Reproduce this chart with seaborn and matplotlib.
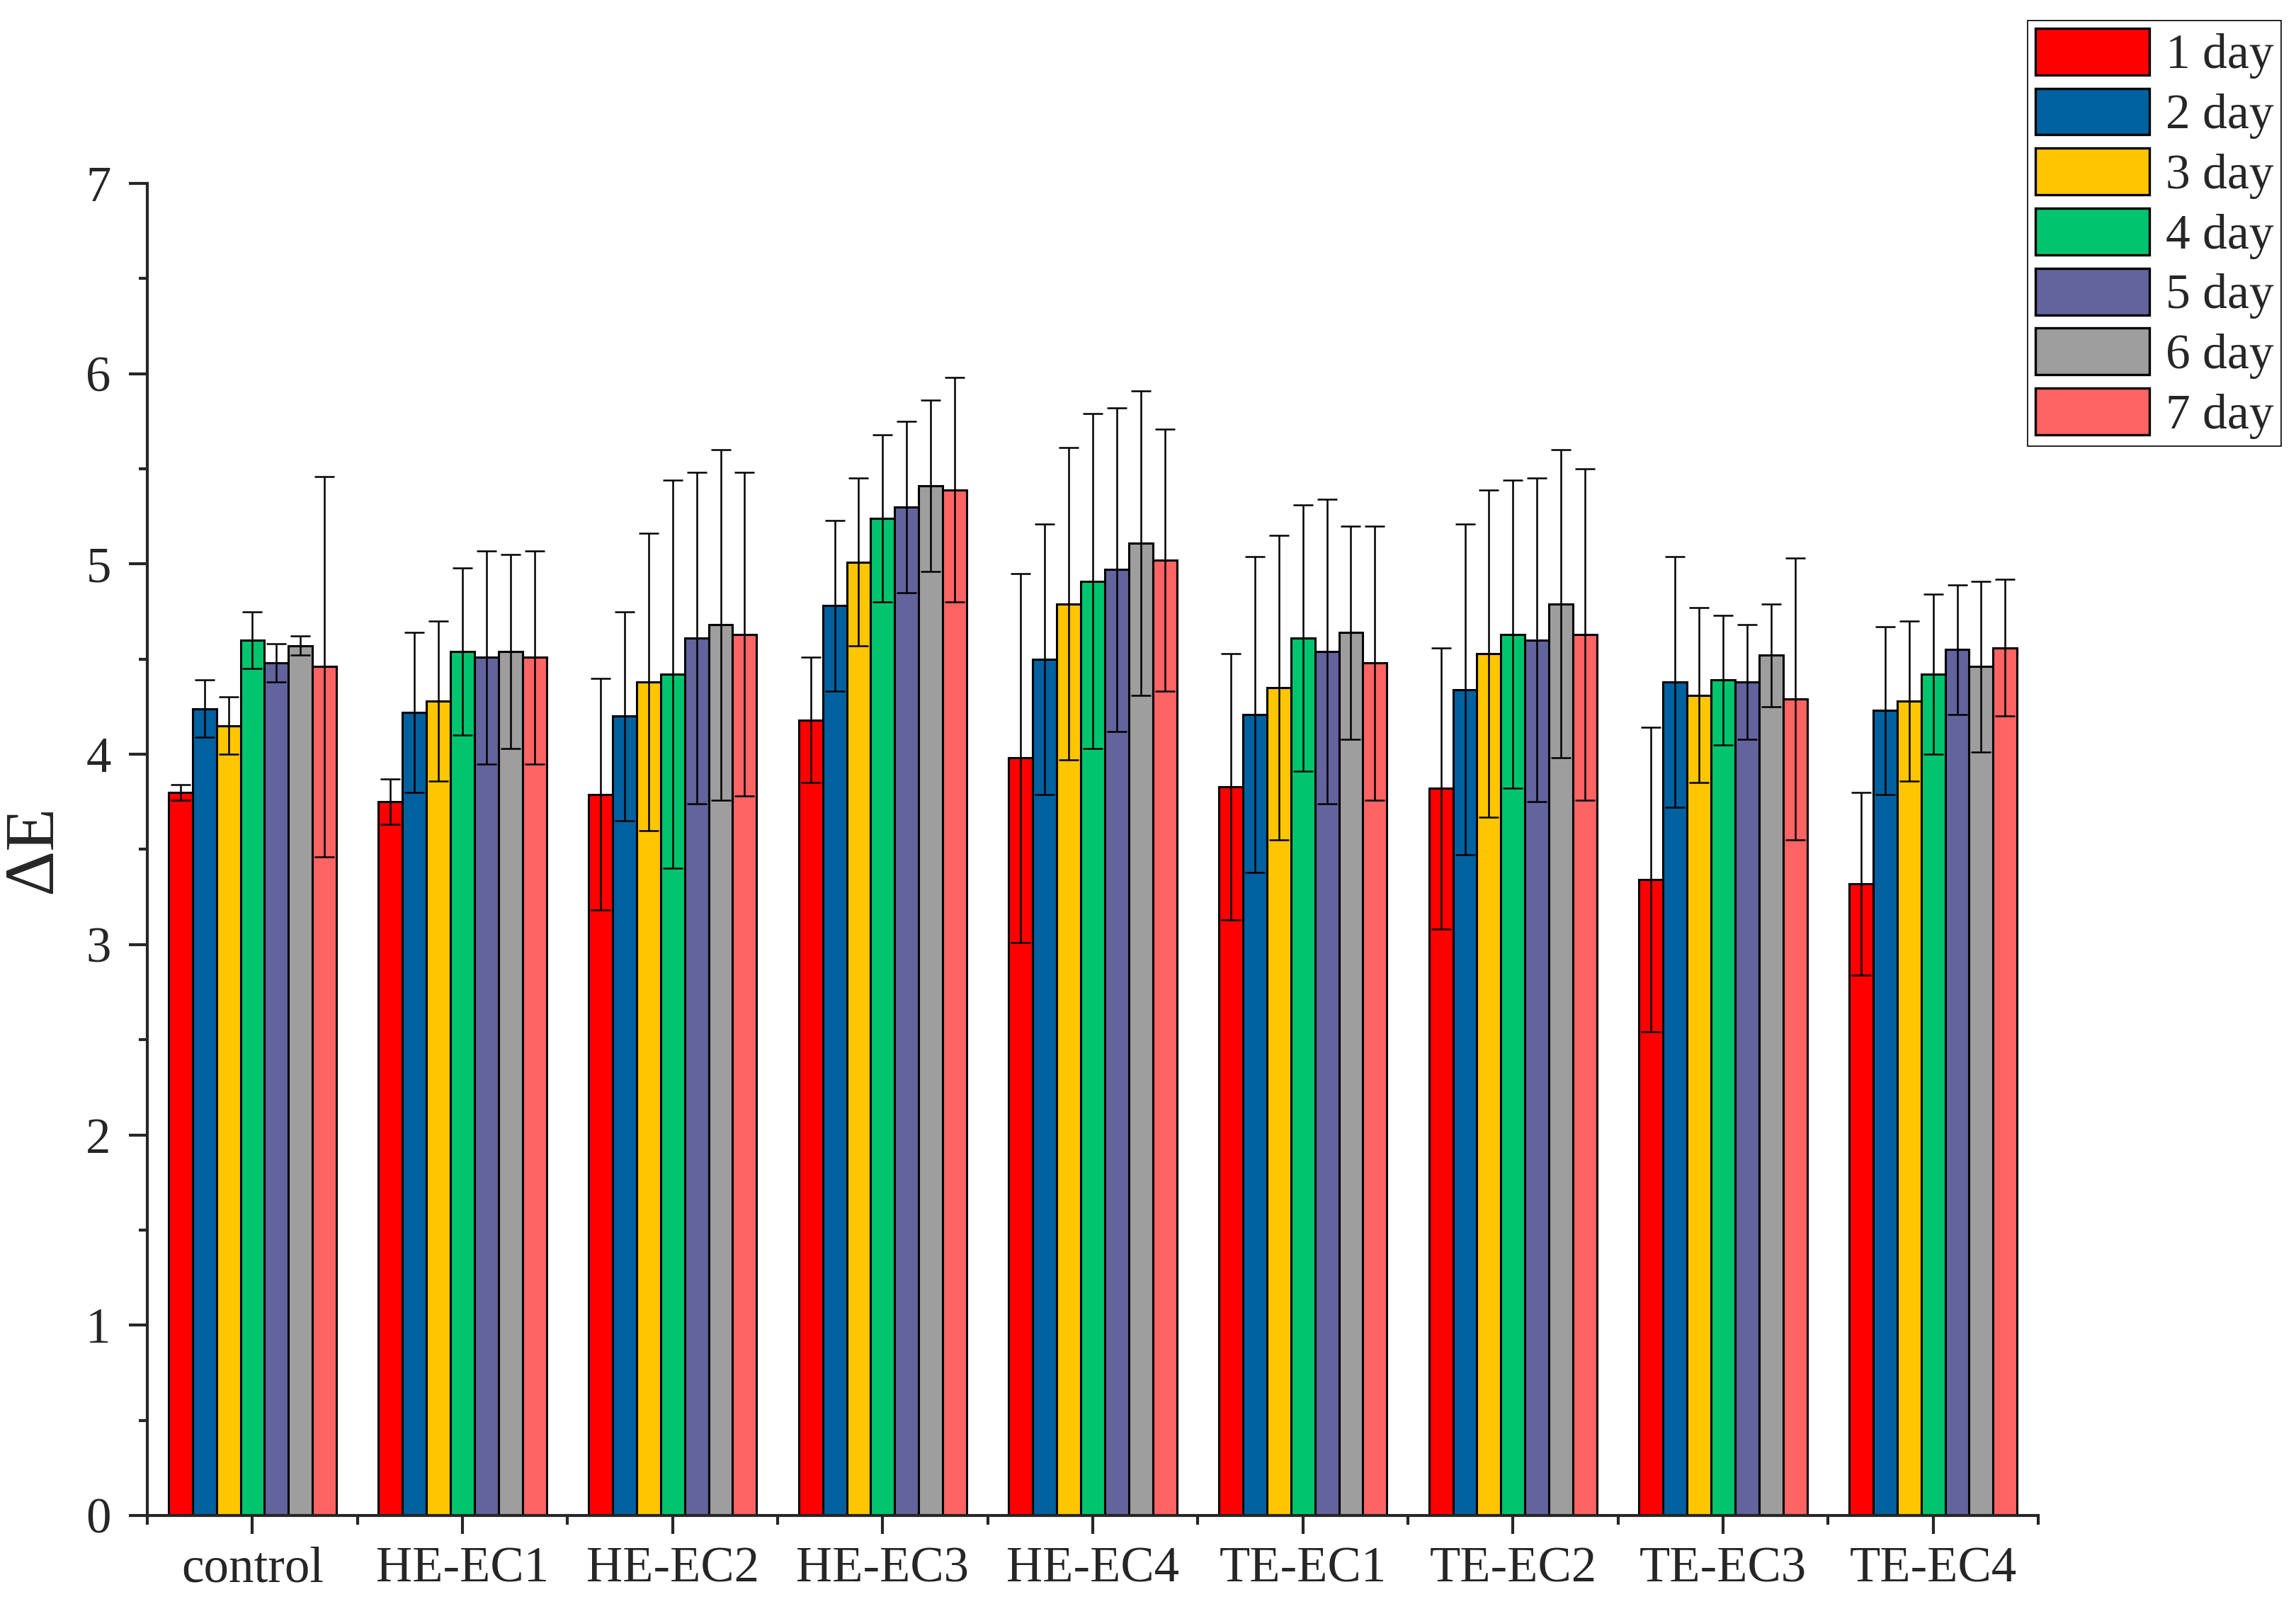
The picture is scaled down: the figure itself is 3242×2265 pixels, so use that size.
import matplotlib
matplotlib.use("Agg")
import matplotlib.pyplot as plt
from matplotlib.ticker import MultipleLocator, FixedLocator
import seaborn as sns
import pandas as pd

groups = ["control", "HE-EC1", "HE-EC2", "HE-EC3", "HE-EC4",
          "TE-EC1", "TE-EC2", "TE-EC3", "TE-EC4"]
days = ["1 day", "2 day", "3 day", "4 day", "5 day", "6 day", "7 day"]

# mean values, one list per day (across the groups)
day1 = [3.80, 3.75, 3.79, 4.18, 3.98, 3.83, 3.82, 3.34, 3.32]
day2 = [4.24, 4.22, 4.20, 4.78, 4.50, 4.21, 4.34, 4.38, 4.23]
day3 = [4.15, 4.28, 4.38, 5.01, 4.79, 4.35, 4.53, 4.31, 4.28]
day4 = [4.60, 4.54, 4.42, 5.24, 4.91, 4.61, 4.63, 4.39, 4.42]
day5 = [4.48, 4.51, 4.61, 5.30, 4.97, 4.54, 4.60, 4.38, 4.55]
day6 = [4.57, 4.54, 4.68, 5.41, 5.11, 4.64, 4.79, 4.52, 4.46]
day7 = [4.46, 4.51, 4.63, 5.39, 5.02, 4.48, 4.63, 4.29, 4.56]

# standard deviations
err1 = [0.04, 0.12, 0.61, 0.33, 0.97, 0.70, 0.74, 0.80, 0.48]
err2 = [0.15, 0.42, 0.55, 0.45, 0.71, 0.83, 0.87, 0.66, 0.44]
err3 = [0.15, 0.42, 0.78, 0.44, 0.82, 0.80, 0.86, 0.46, 0.42]
err4 = [0.15, 0.44, 1.02, 0.44, 0.88, 0.70, 0.81, 0.34, 0.42]
err5 = [0.10, 0.56, 0.87, 0.45, 0.85, 0.80, 0.85, 0.30, 0.34]
err6 = [0.05, 0.51, 0.92, 0.45, 0.80, 0.56, 0.81, 0.27, 0.45]
err7 = [1.00, 0.56, 0.85, 0.59, 0.69, 0.72, 0.87, 0.74, 0.36]

colors = ["#FF0000", "#0061A0", "#FFC600", "#00C56E",
          "#63639E", "#9E9E9E", "#FF6464"]

means = [day1, day2, day3, day4, day5, day6, day7]
errs = [err1, err2, err3, err4, err5, err6, err7]

rows = []
for d, vals in zip(days, means):
    for g, v in zip(groups, vals):
        rows.append({"group": g, "day": d, "value": v})
df = pd.DataFrame(rows)

sns.set_style("ticks")
plt.rcParams["font.family"] = ["Liberation Serif", "DejaVu Serif"]

fig = plt.figure(figsize=(16.21, 11.325), dpi=200)
ax = fig.add_axes([0.0642, 0.0552, 0.8235, 0.8305])

sns.barplot(data=df, x="group", y="value", hue="day", order=groups,
            hue_order=days, palette=colors, saturation=1,
            edgecolor="black", linewidth=1.1, errorbar=None,
            width=0.8, ax=ax)

# error bars on top of every bar
for cont, e in zip(ax.containers, errs):
    xs = [b.get_x() + b.get_width() / 2 for b in cont]
    ys = [b.get_height() for b in cont]
    ax.errorbar(xs, ys, yerr=e, fmt="none", ecolor="black",
                elinewidth=0.9, capsize=4.9, capthick=0.9, zorder=5)

ax.set_xlim(-0.5, 8.5)
ax.set_ylim(0, 7)
ax.yaxis.set_major_locator(MultipleLocator(1))
ax.yaxis.set_minor_locator(MultipleLocator(0.5))
ax.xaxis.set_minor_locator(FixedLocator([i - 0.5 for i in range(10)]))

sns.despine(ax=ax)
for s in ["left", "bottom"]:
    ax.spines[s].set_linewidth(1.5)

ax.tick_params(axis="both", which="major", length=9.5, width=1.5,
               labelsize=25.5, direction="out")
ax.tick_params(axis="both", which="minor", length=4.5, width=1.5,
               direction="out")
ax.tick_params(axis="y", which="major", pad=9)
ax.tick_params(axis="x", which="major", pad=6)

ax.set_xlabel("")
ax.set_ylabel("ΔE", fontsize=36, labelpad=10)

handles, labels = ax.get_legend_handles_labels()
ax.legend_.remove()
leg = fig.legend(handles, labels, loc="upper right",
                 bbox_to_anchor=(0.9935, 0.987),
                 fontsize=25, frameon=True, fancybox=False,
                 edgecolor="black", framealpha=1,
                 handlelength=2.32, handleheight=1.08,
                 labelspacing=0.19, handletextpad=0.33,
                 borderpad=0.15, borderaxespad=0)
leg.get_frame().set_linewidth(0.6)
for h in leg.legend_handles:
    h.set_edgecolor("black")
    h.set_linewidth(1.2)

fig.savefig("out.png", dpi=200)
